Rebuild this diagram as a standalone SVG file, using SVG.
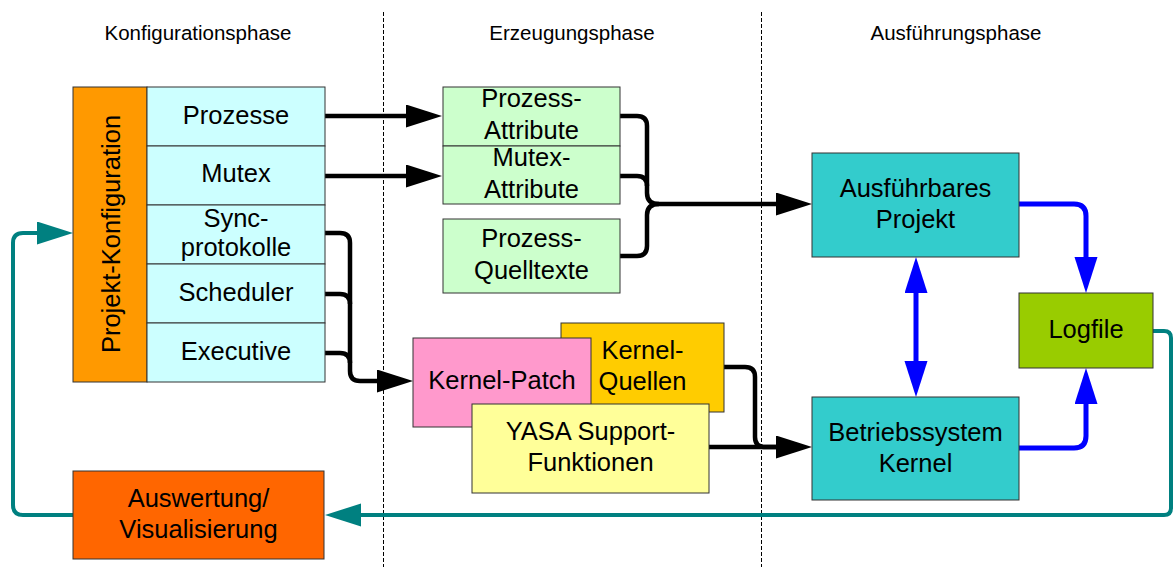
<svg xmlns="http://www.w3.org/2000/svg" width="1174" height="567" viewBox="0 0 1174 567">
  <style>
    text { font-family: "Liberation Sans", Arial, sans-serif; fill: #000; }
    .lbl { font-size: 25.5px; text-anchor: middle; }
    .hdr { font-size: 20.5px; text-anchor: middle; }
    .box { stroke: #333; stroke-width: 1; }
    .phase { stroke: #000; stroke-width: 1; stroke-dasharray: 4 2; fill: none; }
    .blk { stroke: #000; stroke-width: 4.5; fill: none; }
    .blu { stroke: #0000ff; stroke-width: 5; fill: none; }
    .tea { stroke: #008080; stroke-width: 4; fill: none; }
  </style>
  <defs>
    <marker id="ah-black" markerUnits="userSpaceOnUse" markerWidth="36" markerHeight="24" refX="2" refY="11.5" orient="auto-start-reverse">
      <path d="M0,0 L36,11.5 L0,23 z" fill="#000"/>
    </marker>
    <marker id="ah-blue" markerUnits="userSpaceOnUse" markerWidth="36" markerHeight="24" refX="2" refY="11.5" orient="auto-start-reverse">
      <path d="M0,0 L36,11.5 L0,23 z" fill="#0000ff"/>
    </marker>
    <marker id="ah-teal" markerUnits="userSpaceOnUse" markerWidth="36" markerHeight="24" refX="2" refY="11.5" orient="auto-start-reverse">
      <path d="M0,0 L36,11.5 L0,23 z" fill="#008080"/>
    </marker>
  </defs>

  <rect width="1174" height="567" fill="#fff"/>

  <!-- phase headings and separators -->
  <g id="phases">
    <text class="hdr" x="198" y="40">Konfigurationsphase</text>
    <text class="hdr" x="572" y="40">Erzeugungsphase</text>
    <text class="hdr" x="956" y="40">Ausführungsphase</text>
    <line class="phase" x1="383.5" y1="12" x2="383.5" y2="567"/>
    <line class="phase" x1="761.5" y1="12" x2="761.5" y2="567"/>
  </g>

  <!-- connectors -->
  <g id="connectors">
    <path class="blk" d="M325,116 H408" marker-end="url(#ah-black)"/>
    <path class="blk" d="M325,176 H408" marker-end="url(#ah-black)"/>
    <path class="blk" d="M325,233 H340 Q350,233 350,243 V371 Q350,381 360,381 H379" marker-end="url(#ah-black)"/>
    <path class="blk" d="M325,294 H340 Q350,294 350,304"/>
    <path class="blk" d="M325,353 H340 Q350,353 350,363"/>
    <path class="blk" d="M620,116 H637 Q647,116 647,126 V193 Q647,204 659,204 H778" marker-end="url(#ah-black)"/>
    <path class="blk" d="M620,176 H637 Q647,176 647,186"/>
    <path class="blk" d="M620,256 H637 Q647,256 647,246 V215 Q647,204 659,204"/>
    <path class="blk" d="M724,367 H745 Q755,367 755,377 V437 Q755,447 765,447 H778" marker-end="url(#ah-black)"/>
    <path class="blk" d="M709,447 H778"/>
    <path class="blu" d="M1019,204 H1074 Q1086,204 1086,216 V259" marker-end="url(#ah-blue)"/>
    <path class="blu" d="M1019,448 H1074 Q1086,448 1086,436 V402" marker-end="url(#ah-blue)"/>
    <path class="blu" d="M916,291 V363" marker-start="url(#ah-blue)" marker-end="url(#ah-blue)"/>
    <path class="tea" d="M1153,331 H1164 Q1171,331 1171,338 V508 Q1171,515 1164,515 H359" marker-end="url(#ah-teal)"/>
    <path class="tea" d="M73,515 H23 Q13,515 13,505 V243 Q13,233 23,233 H39" marker-end="url(#ah-teal)"/>
  </g>

  <!-- configuration -->
  <g id="projekt-konfiguration">
    <rect class="box" x="73" y="87" width="74" height="295" fill="#ff9900"/>
    <text class="lbl" transform="translate(120,234) rotate(-90)">Projekt-Konfiguration</text>
  </g>
  <g id="prozesse">
    <rect class="box" x="147" y="87" width="178" height="59" fill="#ccffff"/>
    <text class="lbl" x="236" y="124">Prozesse</text>
  </g>
  <g id="mutex">
    <rect class="box" x="147" y="146" width="178" height="59" fill="#ccffff"/>
    <text class="lbl" x="236" y="182">Mutex</text>
  </g>
  <g id="syncprotokolle">
    <rect class="box" x="147" y="205" width="178" height="59" fill="#ccffff"/>
    <text class="lbl" x="236" y="227">Sync-</text>
    <text class="lbl" x="236" y="256">protokolle</text>
  </g>
  <g id="scheduler">
    <rect class="box" x="147" y="264" width="178" height="59" fill="#ccffff"/>
    <text class="lbl" x="236" y="301">Scheduler</text>
  </g>
  <g id="executive">
    <rect class="box" x="147" y="323" width="178" height="59" fill="#ccffff"/>
    <text class="lbl" x="236" y="360">Executive</text>
  </g>
  <g id="auswertung">
    <rect class="box" x="73" y="471" width="251" height="88" fill="#ff6600"/>
    <text class="lbl" x="198.5" y="507">Auswertung/</text>
    <text class="lbl" x="198.5" y="538">Visualisierung</text>
  </g>

  <!-- generation -->
  <g id="prozess-attribute">
    <rect class="box" x="443" y="87" width="177" height="59" fill="#ccffcc"/>
    <text class="lbl" x="531.5" y="107">Prozess-</text>
    <text class="lbl" x="531.5" y="139">Attribute</text>
  </g>
  <g id="mutex-attribute">
    <rect class="box" x="443" y="146" width="177" height="58" fill="#ccffcc"/>
    <text class="lbl" x="531.5" y="166">Mutex-</text>
    <text class="lbl" x="531.5" y="198">Attribute</text>
  </g>
  <g id="prozess-quelltexte">
    <rect class="box" x="443" y="219" width="177" height="74" fill="#ccffcc"/>
    <text class="lbl" x="531.5" y="247">Prozess-</text>
    <text class="lbl" x="531.5" y="279">Quelltexte</text>
  </g>
  <g id="kernel-quellen">
    <rect class="box" x="561" y="323" width="163" height="89" fill="#ffcc00"/>
    <text class="lbl" x="642.5" y="359">Kernel-</text>
    <text class="lbl" x="642.5" y="390">Quellen</text>
  </g>
  <g id="kernel-patch">
    <rect class="box" x="413" y="338" width="178" height="89" fill="#ff99cc"/>
    <text class="lbl" x="502" y="389">Kernel-Patch</text>
  </g>
  <g id="yasa-support">
    <rect class="box" x="472" y="404" width="237" height="89" fill="#ffff99"/>
    <text class="lbl" x="590.5" y="440">YASA Support-</text>
    <text class="lbl" x="590.5" y="471">Funktionen</text>
  </g>

  <!-- execution -->
  <g id="ausfuehrbares-projekt">
    <rect class="box" x="812" y="153" width="207" height="104" fill="#33cccc"/>
    <text class="lbl" x="915.5" y="197">Ausführbares</text>
    <text class="lbl" x="915.5" y="228">Projekt</text>
  </g>
  <g id="betriebssystem-kernel">
    <rect class="box" x="812" y="397" width="207" height="103" fill="#33cccc"/>
    <text class="lbl" x="915.5" y="441">Betriebssystem</text>
    <text class="lbl" x="915.5" y="472">Kernel</text>
  </g>
  <g id="logfile">
    <rect class="box" x="1019" y="293" width="134" height="75" fill="#99cc00"/>
    <text class="lbl" x="1086" y="338">Logfile</text>
  </g>
</svg>
